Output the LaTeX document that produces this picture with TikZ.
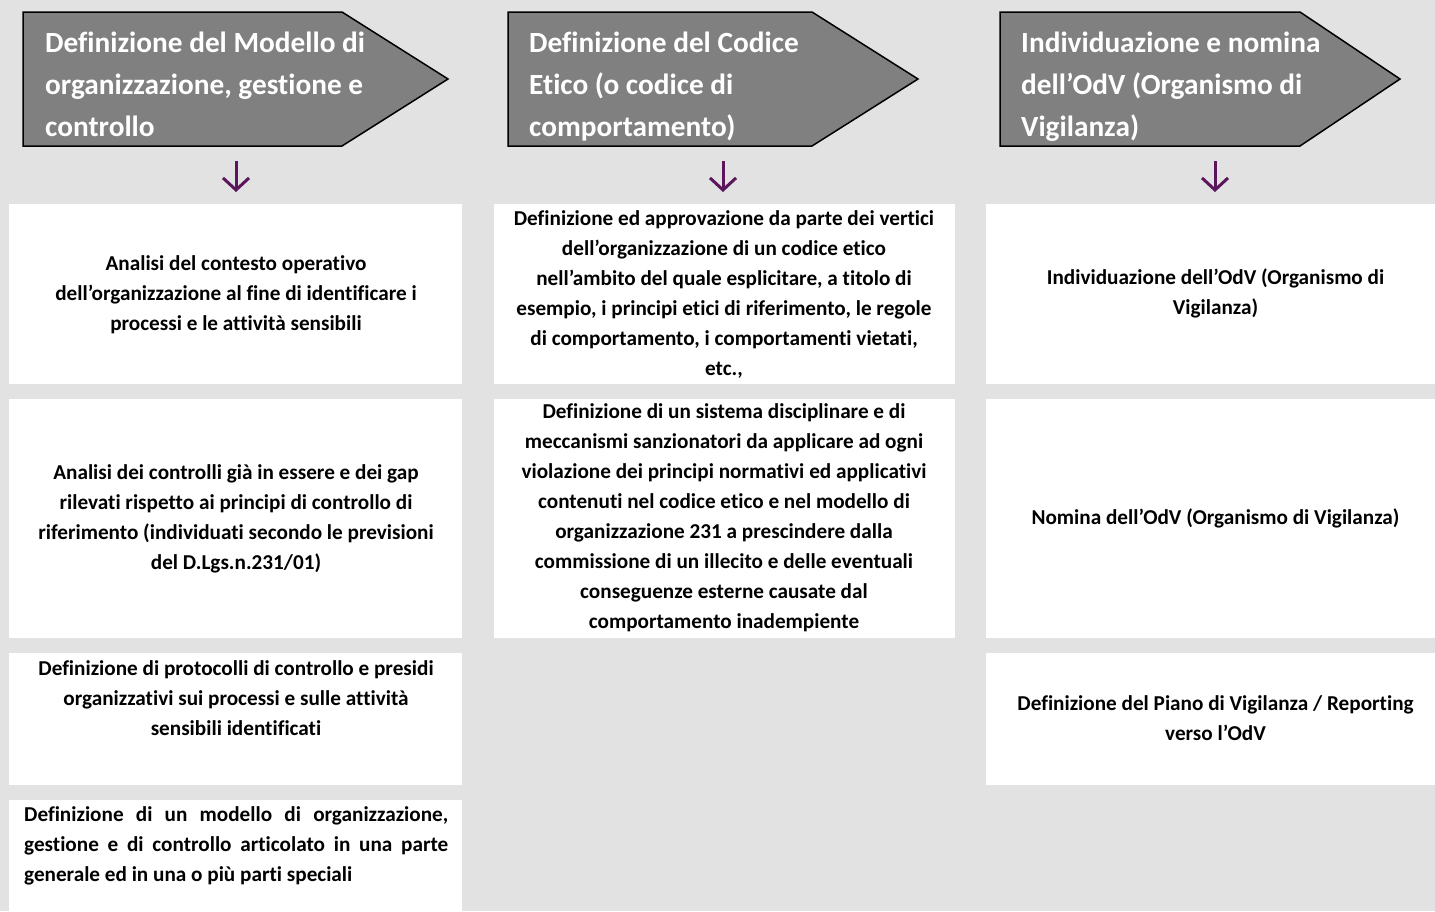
\documentclass[tikz,border=0pt]{standalone}
\usepackage{fontspec}
\setmainfont{Carlito}[Ligatures=NoCommon]
\usetikzlibrary{arrows.meta}
\definecolor{bg}{RGB}{226,226,226}
\definecolor{hdr}{RGB}{128,128,128}
\definecolor{arrc}{RGB}{92,22,92}
\begin{document}
\begin{tikzpicture}[x=1pt,y=-1pt,
  box/.style={fill=white, draw=none, inner sep=0pt, outer sep=0pt},
  txt/.style={font=\fontsize{21.2}{30}\selectfont\bfseries, align=center, inner sep=0pt},
  hdrtxt/.style={font=\fontsize{29.3}{42}\selectfont\bfseries, text=white, align=left, inner sep=0pt, anchor=north west},
  hdrshape/.style={fill=hdr, draw=black, line width=1.5pt, line join=miter},
  arr/.style={draw=arrc, line width=3pt, shorten >=12pt, -{Straight Barb[length=12pt,width=26pt]}}
]
\useasboundingbox (0,0) rectangle (1435,911);
\fill[bg] (0,0) rectangle (1435,911);

% headers
\draw[hdrshape] (23,12) -- (342,12) -- (448,79) -- (342,146) -- (23,146) -- cycle;
\draw[hdrshape] (508,12) -- (812,12) -- (918,79) -- (812,146) -- (508,146) -- cycle;
\draw[hdrshape] (1000,12) -- (1300,12) -- (1400,79) -- (1300,146) -- (1000,146) -- cycle;
\node[hdrtxt] (h1) at (45,31.5) {Definizione del Modello di\\organizzazione, gestione e\\controllo};
\node[hdrtxt] (h2) at (529,31.5) {Definizione del Codice\\Etico (o codice di\\comportamento)};
\node[hdrtxt] (h3) at (1021,31.5) {Individuazione e nomina\\dell’OdV (Organismo di\\Vigilanza)};

% boxes column 1
\node[box, minimum width=453pt, minimum height=180pt] (b11) at (235.5,294) {};
\node[box, minimum width=453pt, minimum height=239pt] (b12) at (235.5,518.5) {};
\node[box, minimum width=453pt, minimum height=132pt] (b13) at (235.5,719) {};
\node[box, minimum width=453pt, minimum height=111pt] (b14) at (235.5,855.5) {};
% boxes column 2
\node[box, minimum width=461pt, minimum height=180pt] (b21) at (724.5,294) {};
\node[box, minimum width=461pt, minimum height=239pt] (b22) at (724.5,518.5) {};
% boxes column 3
\node[box, minimum width=449pt, minimum height=180pt] (b31) at (1210.5,294) {};
\node[box, minimum width=449pt, minimum height=239pt] (b32) at (1210.5,518.5) {};
\node[box, minimum width=449pt, minimum height=132pt] (b33) at (1210.5,719) {};

% texts
\node[txt] (t11) at (236,295) {Analisi del contesto operativo\\dell’organizzazione al fine di identificare i\\processi e le attività sensibili};
\node[txt] (t12) at (236,519) {Analisi dei controlli già in essere e dei gap\\rilevati rispetto ai principi di controllo di\\riferimento (individuati secondo le previsioni\\del D.Lgs.n.231/01)};
\node[txt, anchor=north] (t13) at (236,660) {Definizione di protocolli di controllo e presidi\\organizzativi sui processi e sulle attività\\sensibili identificati};
\node[txt, align=left, anchor=north west] (t14) at (24,806) {\makebox[424pt][s]{Definizione di un modello di organizzazione,}\\\makebox[424pt][s]{gestione e di controllo articolato in una parte}\\generale ed in una o più parti speciali};
\node[txt] (t21) at (724,294) {Definizione ed approvazione da parte dei vertici\\dell’organizzazione di un codice etico\\nell’ambito del quale esplicitare, a titolo di\\esempio, i principi etici di riferimento, le regole\\di comportamento, i comportamenti vietati,\\etc.,};
\node[txt] (t22) at (724,518) {Definizione di un sistema disciplinare e di\\meccanismi sanzionatori da applicare ad ogni\\violazione dei principi normativi ed applicativi\\contenuti nel codice etico e nel modello di\\organizzazione 231 a prescindere dalla\\commissione di un illecito e delle eventuali\\conseguenze esterne causate dal\\comportamento inadempiente};
\node[txt] (t31) at (1215.5,293.5) {Individuazione dell’OdV (Organismo di\\Vigilanza)};
\node[txt] (t32) at (1215.5,518) {Nomina dell’OdV (Organismo di Vigilanza)};
\node[txt] (t33) at (1215.5,718) {Definizione del Piano di Vigilanza / Reporting\\verso l’OdV};

% arrows
\coordinate (a1) at (236,161);
\coordinate (a2) at (723,161);
\coordinate (a3) at (1215,161);
\draw[arr] (a1) -- (a1 |- b11.north);
\draw[arr] (a2) -- (a2 |- b21.north);
\draw[arr] (a3) -- (a3 |- b31.north);
\end{tikzpicture}
\end{document}
